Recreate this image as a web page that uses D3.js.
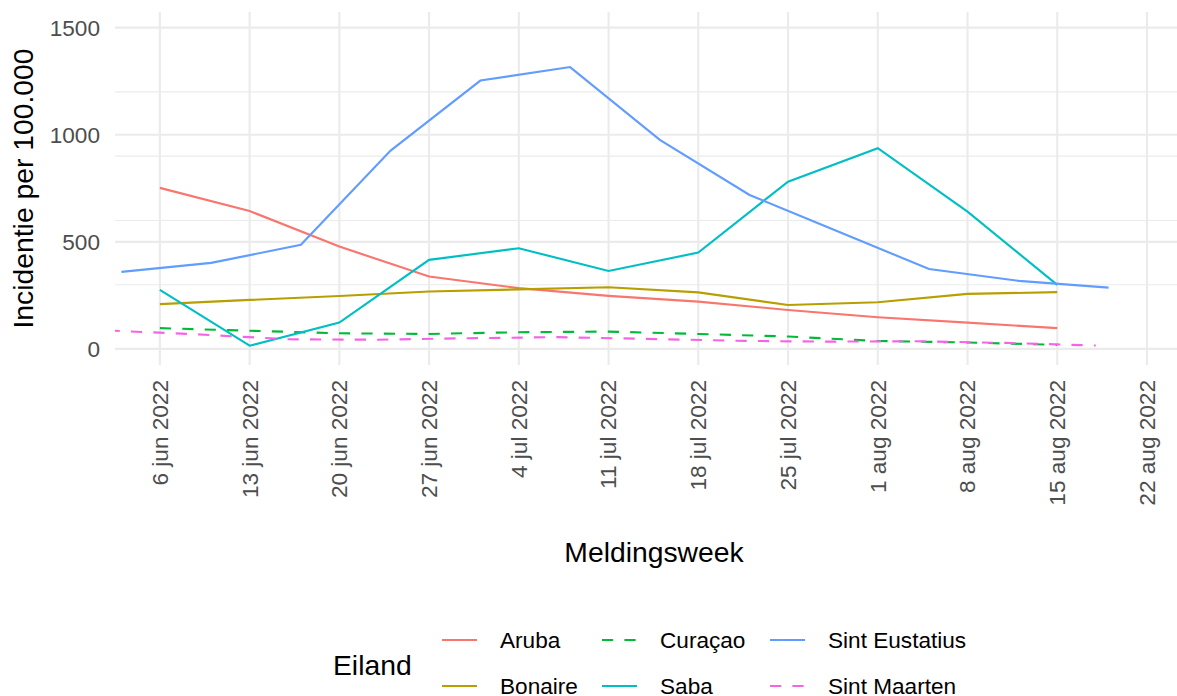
<!DOCTYPE html>
<html lang="nl">
<head>
  <meta charset="UTF-8">
  <title>Incidentie per 100.000 per meldingsweek</title>
  <script src="https://d3js.org/d3.v7.min.js"></script>
  <style>
    body {
      margin: 0;
      background: #fff;
    }
    svg {
      display: block;
      font-family: "Liberation Sans", Arial, sans-serif;
    }
    .tick-label {
      font-size: 22.6px;
      fill: #4d4d4d;
    }
    .title {
      font-size: 28.3px;
      fill: #000;
    }
    .legend-label {
      font-size: 22.6px;
      fill: #000;
    }
  </style>
</head>
<body>
<svg width="1177" height="696"></svg>

<script>
  const day = (m, d) => new Date(Date.UTC(2022, m - 1, d));

  // Meldingsweken (maandag) for Aruba, Bonaire, Curaçao, Saba
  const mondayWeeks = [day(6,6), day(6,13), day(6,20), day(6,27), day(7,4), day(7,11),
                       day(7,18), day(7,25), day(8,1), day(8,8), day(8,15)];
  // Sint Eustatius reported on fridays, Sint Maarten on thursdays
  const fridayWeeks = [day(6,3), day(6,10), day(6,17), day(6,24), day(7,1), day(7,8),
                       day(7,15), day(7,22), day(7,29), day(8,5), day(8,12), day(8,19)];
  const thursdayWeeks = [day(6,2), day(6,9), day(6,16), day(6,23), day(6,30), day(7,7),
                         day(7,14), day(7,21), day(7,28), day(8,4), day(8,11), day(8,18)];

  const aruba     = [752, 644, 478, 338, 284, 248, 221, 182, 148, 123, 97];
  const bonaire   = [209, 229, 247, 268, 278, 288, 264, 205, 218, 257, 265];
  const curacao   = [97, 85, 73, 70, 78, 81, 70, 58, 37, 30, 19];
  const saba      = [276, 15, 123, 416, 470, 364, 450, 781, 937, 641, 299];
  const eustatius = [360, 402, 486, 926, 1253, 1316, 976, 719, 546, 373, 318, 286];
  const maarten   = [86, 68, 45, 43, 50, 55, 47, 38, 34, 36, 28, 16];

  const islands = ["Aruba", "Bonaire", "Curaçao", "Saba", "Sint Eustatius", "Sint Maarten"];
  const colors  = ["#F8766D", "#B79F00", "#00BA38", "#00BFC4", "#619CFF", "#F564E3"];
  const dashed  = [false, false, true, false, false, true];

  const yMajor = [0, 500, 1000, 1500];
  const yMinor = [300, 600, 900, 1200];
  const xTicks = d3.range(12).map(i => d3.utcDay.offset(day(6,6), i * 7));

  const series = [
    {name: islands[0], dates: mondayWeeks, values: aruba},
    {name: islands[1], dates: mondayWeeks, values: bonaire},
    {name: islands[2], dates: mondayWeeks, values: curacao},
    {name: islands[3], dates: mondayWeeks, values: saba},
    {name: islands[4], dates: fridayWeeks, values: eustatius},
    {name: islands[5], dates: thursdayWeeks, values: maarten}
  ];

  const svg = d3.select("svg"),
        margin = {top: 12, left: 115},
        width = 1062,
        height = 353;

  const x = d3.scaleUtc()
      .domain([new Date(Date.UTC(2022, 5, 2, 12)), new Date(Date.UTC(2022, 7, 24, 8, 10))])
      .range([0, width]);

  const y = d3.scaleLinear()
      .domain([-75, 1573])
      .range([height, 0]);

  const colour = d3.scaleOrdinal().domain(islands).range(colors);
  const dash = d3.scaleOrdinal().domain(islands).range(dashed.map(d => d ? "11.2,11.2" : null));

  svg.append("defs").append("clipPath").attr("id", "panel")
    .append("rect").attr("width", width).attr("height", height);

  const chart = svg.append("g")
      .attr("transform", `translate(${margin.left},${margin.top})`);

  // grid
  chart.append("g").selectAll("line")
    .data(yMinor).join("line")
      .attr("x1", 0).attr("x2", width)
      .attr("y1", d => y(d)).attr("y2", d => y(d))
      .attr("stroke", "#ebebeb").attr("stroke-width", 1.07);

  chart.append("g").selectAll("line")
    .data(yMajor).join("line")
      .attr("x1", 0).attr("x2", width)
      .attr("y1", d => y(d)).attr("y2", d => y(d))
      .attr("stroke", "#ebebeb").attr("stroke-width", 2.13);

  chart.append("g").selectAll("line")
    .data(xTicks).join("line")
      .attr("x1", d => x(d)).attr("x2", d => x(d))
      .attr("y1", 0).attr("y2", height)
      .attr("stroke", "#ebebeb").attr("stroke-width", 2.13);

  // lines
  const line = d3.line()
      .x(d => x(d[0]))
      .y(d => y(d[1]));

  chart.append("g").attr("clip-path", "url(#panel)")
    .selectAll("path")
    .data(series).join("path")
      .attr("d", s => line(d3.zip(s.dates, s.values)))
      .attr("fill", "none")
      .attr("stroke", s => colour(s.name))
      .attr("stroke-width", 2.13)
      .attr("stroke-dasharray", s => dash(s.name));

  // y tick labels
  chart.append("g").selectAll("text")
    .data(yMajor).join("text")
      .attr("class", "tick-label")
      .attr("x", -15)
      .attr("y", d => y(d))
      .attr("dy", "0.35em")
      .attr("text-anchor", "end")
      .text(d => d);

  // x tick labels
  const fmt = d => `${d.getUTCDate()} ${["jan","feb","mrt","apr","mei","jun","jul","aug","sep","okt","nov","dec"][d.getUTCMonth()]} ${d.getUTCFullYear()}`;
  chart.append("g").selectAll("text")
    .data(xTicks).join("text")
      .attr("class", "tick-label")
      .attr("transform", d => `translate(${x(d)},${height + 15}) rotate(-90)`)
      .attr("dy", "0.35em")
      .attr("text-anchor", "end")
      .text(fmt);

  // axis titles
  svg.append("text")
      .attr("class", "title")
      .attr("x", 654)
      .attr("y", 562)
      .attr("text-anchor", "middle")
      .text("Meldingsweek");

  svg.append("text")
      .attr("class", "title")
      .attr("transform", `translate(33,${margin.top + height / 2}) rotate(-90)`)
      .attr("text-anchor", "middle")
      .text("Incidentie per 100.000");

  // legend
  const legend = svg.append("g");
  legend.append("text")
      .attr("class", "title")
      .attr("x", 333)
      .attr("y", 675)
      .text("Eiland");

  const colX = [442, 602, 770];
  const rowY = [640, 686];
  const items = legend.selectAll("g.item")
    .data(islands).join("g")
      .attr("class", "item")
      .attr("transform", (d, i) => `translate(${colX[Math.floor(i / 2)]},${rowY[i % 2]})`);

  items.append("line")
      .attr("x1", 0).attr("x2", 35)
      .attr("stroke", d => colour(d))
      .attr("stroke-width", 2.13)
      .attr("stroke-dasharray", d => dash(d));

  items.append("text")
      .attr("class", "legend-label")
      .attr("x", 58)
      .attr("dy", "0.36em")
      .text(d => d);
</script>

</body>
</html>
